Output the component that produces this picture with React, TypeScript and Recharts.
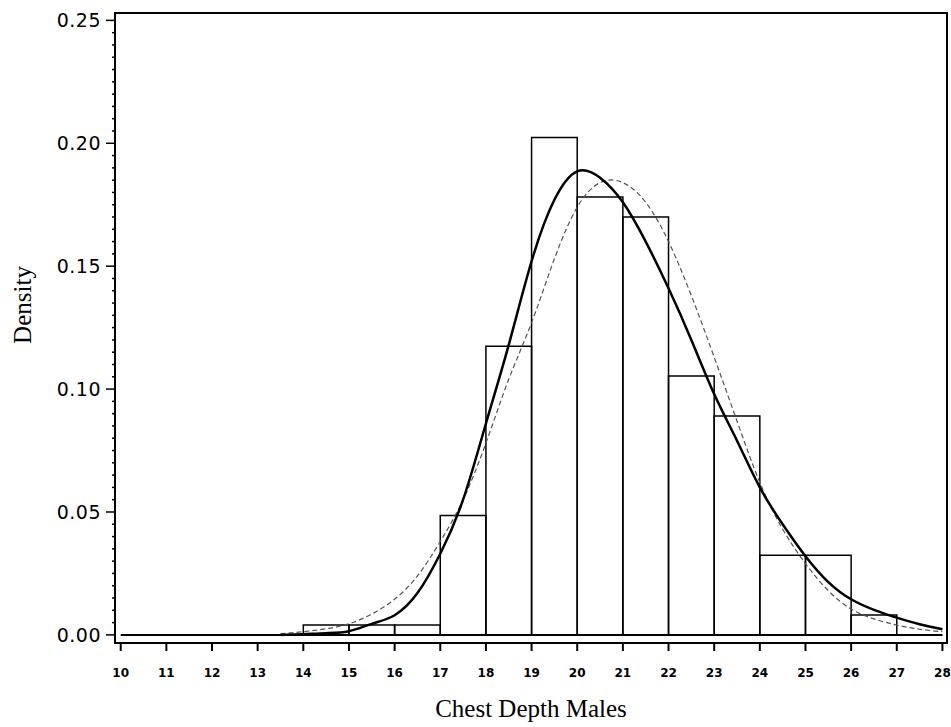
import {
  ComposedChart,
  Line,
  ReferenceArea,
  ReferenceLine,
  XAxis,
  YAxis,
} from "recharts";

// histogram bins (left edge, width 1) and their density
const binStart = [14, 15, 16, 17, 18, 19, 20, 21, 22, 23, 24, 25, 26];
const binDensity = [
  0.004, 0.004, 0.004, 0.0486, 0.1174, 0.2024, 0.1781, 0.17, 0.1053, 0.0891,
  0.0324, 0.0324, 0.0081,
];

const curveX = [
  13.5, 14, 14.5, 15, 15.5, 16, 16.5, 17, 17.5, 18, 18.5, 19, 19.5, 20, 20.5,
  21, 21.5, 22, 22.5, 23, 23.5, 24, 24.5, 25, 25.5, 26, 26.5, 27, 27.5, 28,
];
const kernelY = [
  0.0, 0.0003, 0.0007, 0.0015, 0.0045, 0.008, 0.017, 0.033, 0.055, 0.086,
  0.118, 0.152, 0.177, 0.1886, 0.186, 0.176, 0.16, 0.141, 0.12, 0.098, 0.079,
  0.06, 0.045, 0.032, 0.0215, 0.0145, 0.0102, 0.007, 0.0043, 0.0023,
];
const normalY = [
  0.0005, 0.0013, 0.0025, 0.0045, 0.0085, 0.0145, 0.024, 0.038, 0.055, 0.078,
  0.104, 0.127, 0.153, 0.174, 0.184, 0.184, 0.176, 0.16, 0.138, 0.113, 0.087,
  0.062, 0.043, 0.029, 0.018, 0.0105, 0.0065, 0.004, 0.0023, 0.0013,
];

const xTicks = [10, 11, 12, 13, 14, 15, 16, 17, 18, 19, 20, 21, 22, 23, 24, 25, 26, 27, 28];
const yMajor = [0, 0.05, 0.1, 0.15, 0.2, 0.25];
// minor ticks every 0.005 between the labelled ones
const yTicks = Array.from({ length: 51 }, (_, i) => +(i * 0.005).toFixed(3));

const xDomain = [9.875, 28.1];
const yDomain = [-0.0033, 0.253];

const curveData = curveX.map((x, i) => ({ x, kernel: kernelY[i], normal: normalY[i] }));

function YTick({ x, y, payload }: { x: number; y: number; payload: { value: number } }) {
  const isMajor = yMajor.some((m) => Math.abs(m - payload.value) < 1e-6);
  return (
    <g>
      <line x1={x} x2={x - (isMajor ? 9 : 3)} y1={y} y2={y} stroke="#000" strokeWidth={1.5} />
      {isMajor && (
        <text
          x={x - 14}
          y={y}
          dy="0.36em"
          textAnchor="end"
          fontFamily="DejaVu Sans"
          fontSize={19}
          letterSpacing={0.5}
          fill="#000"
        >
          {payload.value.toFixed(2)}
        </text>
      )}
    </g>
  );
}

export default function App() {
  return (
    <div style={{ position: "absolute", left: 0, top: 0, background: "#fff" }}>
      <ComposedChart
        width={951}
        height={727}
        data={curveData}
        margin={{ top: 13, right: 4, left: 0, bottom: 0 }}
      >
        <XAxis
          dataKey="x"
          type="number"
          domain={xDomain}
          allowDataOverflow
          ticks={xTicks}
          interval={0}
          height={84}
          tickSize={8}
          tickMargin={17}
          stroke="#000"
          strokeWidth={2}
          tick={{ fill: "#000", fontFamily: "DejaVu Sans", fontWeight: "bold", fontSize: 12 }}
          label={{
            content: ({ viewBox }: any) => (
              <text
                x={viewBox.x + viewBox.width / 2}
                y={viewBox.y + 74}
                textAnchor="middle"
                fontFamily="Liberation Serif"
                fontSize={25}
                fill="#000"
              >
                Chest Depth Males
              </text>
            ),
          }}
        />
        <YAxis
          type="number"
          domain={yDomain}
          allowDataOverflow
          ticks={yTicks}
          interval={0}
          width={115}
          tickSize={0}
          tickMargin={0}
          tickLine={false}
          stroke="#000"
          strokeWidth={2}
          tick={(props: any) => <YTick {...props} />}
          label={{
            content: ({ viewBox }: any) => {
              const cx = viewBox.x + 31;
              const cy = viewBox.y + viewBox.height / 2 - 23;
              return (
                <text
                  x={cx}
                  y={cy}
                  transform={`rotate(-90 ${cx} ${cy})`}
                  textAnchor="middle"
                  fontFamily="Liberation Serif"
                  fontSize={25}
                  fill="#000"
                >
                  Density
                </text>
              );
            },
          }}
        />
        {/* plot frame */}
        <ReferenceArea
          y1={yDomain[0]}
          y2={yDomain[1]}
          fill="none"
          stroke="#000"
          strokeWidth={2}
          ifOverflow="visible"
        />
        {binStart.map((b, i) => (
          <ReferenceArea
            key={b}
            x1={b}
            x2={b + 1}
            y1={0}
            y2={binDensity[i]}
            fill="none"
            stroke="#000"
            strokeWidth={1.5}
            ifOverflow="visible"
          />
        ))}
        <ReferenceLine
          segment={[
            { x: 10, y: 0 },
            { x: 28, y: 0 },
          ]}
          stroke="#000"
          strokeWidth={2}
        />
        <Line
          dataKey="normal"
          type="natural"
          stroke="#555"
          strokeWidth={1.2}
          strokeDasharray="5 3"
          dot={false}
          activeDot={false}
          isAnimationActive={false}
        />
        <Line
          dataKey="kernel"
          type="natural"
          stroke="#000"
          strokeWidth={2.5}
          dot={false}
          activeDot={false}
          isAnimationActive={false}
        />
      </ComposedChart>
    </div>
  );
}
